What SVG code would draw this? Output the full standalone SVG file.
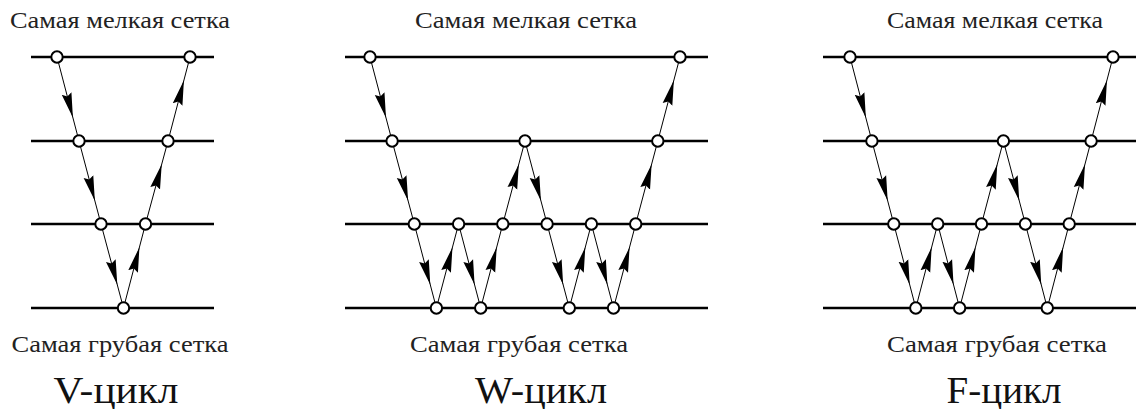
<svg xmlns="http://www.w3.org/2000/svg" width="1136" height="409" viewBox="0 0 1136 409">
<style>
.grid{stroke:#000;stroke-width:2.7;fill:none}
.c{stroke:#000;stroke-width:1;fill:none;marker-end:url(#ah)}
.n circle{fill:#fff;stroke:#000;stroke-width:2}
.lbl{font-family:Liberation Serif, DejaVu Serif, Tinos, Times, serif;font-size:23px;fill:#222;text-anchor:middle}
.ttl{font-family:Liberation Serif, DejaVu Serif, Tinos, Times, serif;font-size:38px;fill:#111;text-anchor:middle}
</style>
<defs>
<marker id="ah" markerUnits="userSpaceOnUse" viewBox="0 -6 50 12" markerWidth="50" markerHeight="12" refX="49" refY="0" orient="auto">
<path d="M25,0 L0,-5 L3,0 L0,5 Z" fill="#000"/>
</marker>
</defs>
<rect width="1136" height="409" fill="#fff"/>
<g id="grids">
<path class="grid" d="M31,57H214M31,141H214M31,224H214M31,308H214"/>
<path class="grid" d="M345,57H708M345,141H708M345,224H708M345,308H708"/>
<path class="grid" d="M823,57H1136M823,141H1136M823,224H1136M823,308H1136"/>
</g>
<g id="connectors">
<line class="c" x1="57" y1="57" x2="79" y2="141"/>
<line class="c" x1="79" y1="141" x2="101" y2="224"/>
<line class="c" x1="101" y1="224" x2="123.5" y2="308"/>
<line class="c" x1="123.5" y1="308" x2="145.5" y2="224"/>
<line class="c" x1="145.5" y1="224" x2="168" y2="141"/>
<line class="c" x1="168" y1="141" x2="190" y2="57"/>

<line class="c" x1="370" y1="57" x2="392.1" y2="141"/>
<line class="c" x1="392.1" y1="141" x2="414.3" y2="224"/>
<line class="c" x1="414.3" y1="224" x2="436.4" y2="308"/>
<line class="c" x1="436.4" y1="308" x2="458.6" y2="224"/>
<line class="c" x1="458.6" y1="224" x2="480.7" y2="308"/>
<line class="c" x1="480.7" y1="308" x2="502.8" y2="224"/>
<line class="c" x1="502.8" y1="224" x2="525" y2="141"/>
<line class="c" x1="525" y1="141" x2="547.1" y2="224"/>
<line class="c" x1="547.1" y1="224" x2="569.3" y2="308"/>
<line class="c" x1="569.3" y1="308" x2="591.4" y2="224"/>
<line class="c" x1="591.4" y1="224" x2="613.5" y2="308"/>
<line class="c" x1="613.5" y1="308" x2="635.7" y2="224"/>
<line class="c" x1="635.7" y1="224" x2="657.8" y2="141"/>
<line class="c" x1="657.8" y1="141" x2="680" y2="57"/>

<line class="c" x1="850" y1="57" x2="871.9" y2="141"/>
<line class="c" x1="871.9" y1="141" x2="893.8" y2="224"/>
<line class="c" x1="893.8" y1="224" x2="915.8" y2="308"/>
<line class="c" x1="915.8" y1="308" x2="937.7" y2="224"/>
<line class="c" x1="937.7" y1="224" x2="959.6" y2="308"/>
<line class="c" x1="959.6" y1="308" x2="981.5" y2="224"/>
<line class="c" x1="981.5" y1="224" x2="1003.4" y2="141"/>
<line class="c" x1="1003.4" y1="141" x2="1025.4" y2="224"/>
<line class="c" x1="1025.4" y1="224" x2="1047.3" y2="308"/>
<line class="c" x1="1047.3" y1="308" x2="1069.2" y2="224"/>
<line class="c" x1="1069.2" y1="224" x2="1091.1" y2="141"/>
<line class="c" x1="1091.1" y1="141" x2="1113" y2="57"/>
</g>
<g id="v-nodes">
<g id="v1" class="n"><circle cx="57" cy="57" r="5.7"/></g>
<g id="v2" class="n"><circle cx="79" cy="141" r="5.7"/></g>
<g id="v3" class="n"><circle cx="101" cy="224" r="5.7"/></g>
<g id="v4" class="n"><circle cx="123.5" cy="308" r="5.7"/></g>
<g id="v5" class="n"><circle cx="145.5" cy="224" r="5.7"/></g>
<g id="v6" class="n"><circle cx="168" cy="141" r="5.7"/></g>
<g id="v7" class="n"><circle cx="190" cy="57" r="5.7"/></g>
</g>
<g id="w-nodes">
<g id="w1" class="n"><circle cx="370" cy="57" r="5.7"/></g>
<g id="w2" class="n"><circle cx="392.1" cy="141" r="5.7"/></g>
<g id="w3" class="n"><circle cx="414.3" cy="224" r="5.7"/></g>
<g id="w4" class="n"><circle cx="436.4" cy="308" r="5.7"/></g>
<g id="w5" class="n"><circle cx="458.6" cy="224" r="5.7"/></g>
<g id="w6" class="n"><circle cx="480.7" cy="308" r="5.7"/></g>
<g id="w7" class="n"><circle cx="502.8" cy="224" r="5.7"/></g>
<g id="w8" class="n"><circle cx="525" cy="141" r="5.7"/></g>
<g id="w9" class="n"><circle cx="547.1" cy="224" r="5.7"/></g>
<g id="w10" class="n"><circle cx="569.3" cy="308" r="5.7"/></g>
<g id="w11" class="n"><circle cx="591.4" cy="224" r="5.7"/></g>
<g id="w12" class="n"><circle cx="613.5" cy="308" r="5.7"/></g>
<g id="w13" class="n"><circle cx="635.7" cy="224" r="5.7"/></g>
<g id="w14" class="n"><circle cx="657.8" cy="141" r="5.7"/></g>
<g id="w15" class="n"><circle cx="680" cy="57" r="5.7"/></g>
</g>
<g id="f-nodes">
<g id="f1" class="n"><circle cx="850" cy="57" r="5.7"/></g>
<g id="f2" class="n"><circle cx="871.9" cy="141" r="5.7"/></g>
<g id="f3" class="n"><circle cx="893.8" cy="224" r="5.7"/></g>
<g id="f4" class="n"><circle cx="915.8" cy="308" r="5.7"/></g>
<g id="f5" class="n"><circle cx="937.7" cy="224" r="5.7"/></g>
<g id="f6" class="n"><circle cx="959.6" cy="308" r="5.7"/></g>
<g id="f7" class="n"><circle cx="981.5" cy="224" r="5.7"/></g>
<g id="f8" class="n"><circle cx="1003.4" cy="141" r="5.7"/></g>
<g id="f9" class="n"><circle cx="1025.4" cy="224" r="5.7"/></g>
<g id="f10" class="n"><circle cx="1047.3" cy="308" r="5.7"/></g>
<g id="f11" class="n"><circle cx="1069.2" cy="224" r="5.7"/></g>
<g id="f12" class="n"><circle cx="1091.1" cy="141" r="5.7"/></g>
<g id="f13" class="n"><circle cx="1113" cy="57" r="5.7"/></g>
</g>
<g id="labels">
<text class="lbl" x="120" y="28" textLength="220" lengthAdjust="spacingAndGlyphs">Самая мелкая сетка</text>
<text class="lbl" x="526" y="28" textLength="222" lengthAdjust="spacingAndGlyphs">Самая мелкая сетка</text>
<text class="lbl" x="995" y="28" textLength="216" lengthAdjust="spacingAndGlyphs">Самая мелкая сетка</text>
<text class="lbl" x="120" y="352" textLength="217" lengthAdjust="spacingAndGlyphs">Самая грубая сетка</text>
<text class="lbl" x="519" y="352" textLength="218" lengthAdjust="spacingAndGlyphs">Самая грубая сетка</text>
<text class="lbl" x="997" y="352" textLength="220" lengthAdjust="spacingAndGlyphs">Самая грубая сетка</text>
<text class="ttl" x="116" y="403" textLength="125" lengthAdjust="spacingAndGlyphs">V-цикл</text>
<text class="ttl" x="541" y="403" textLength="132" lengthAdjust="spacingAndGlyphs">W-цикл</text>
<text class="ttl" x="1004" y="403" textLength="115" lengthAdjust="spacingAndGlyphs">F-цикл</text>
</g>
</svg>
